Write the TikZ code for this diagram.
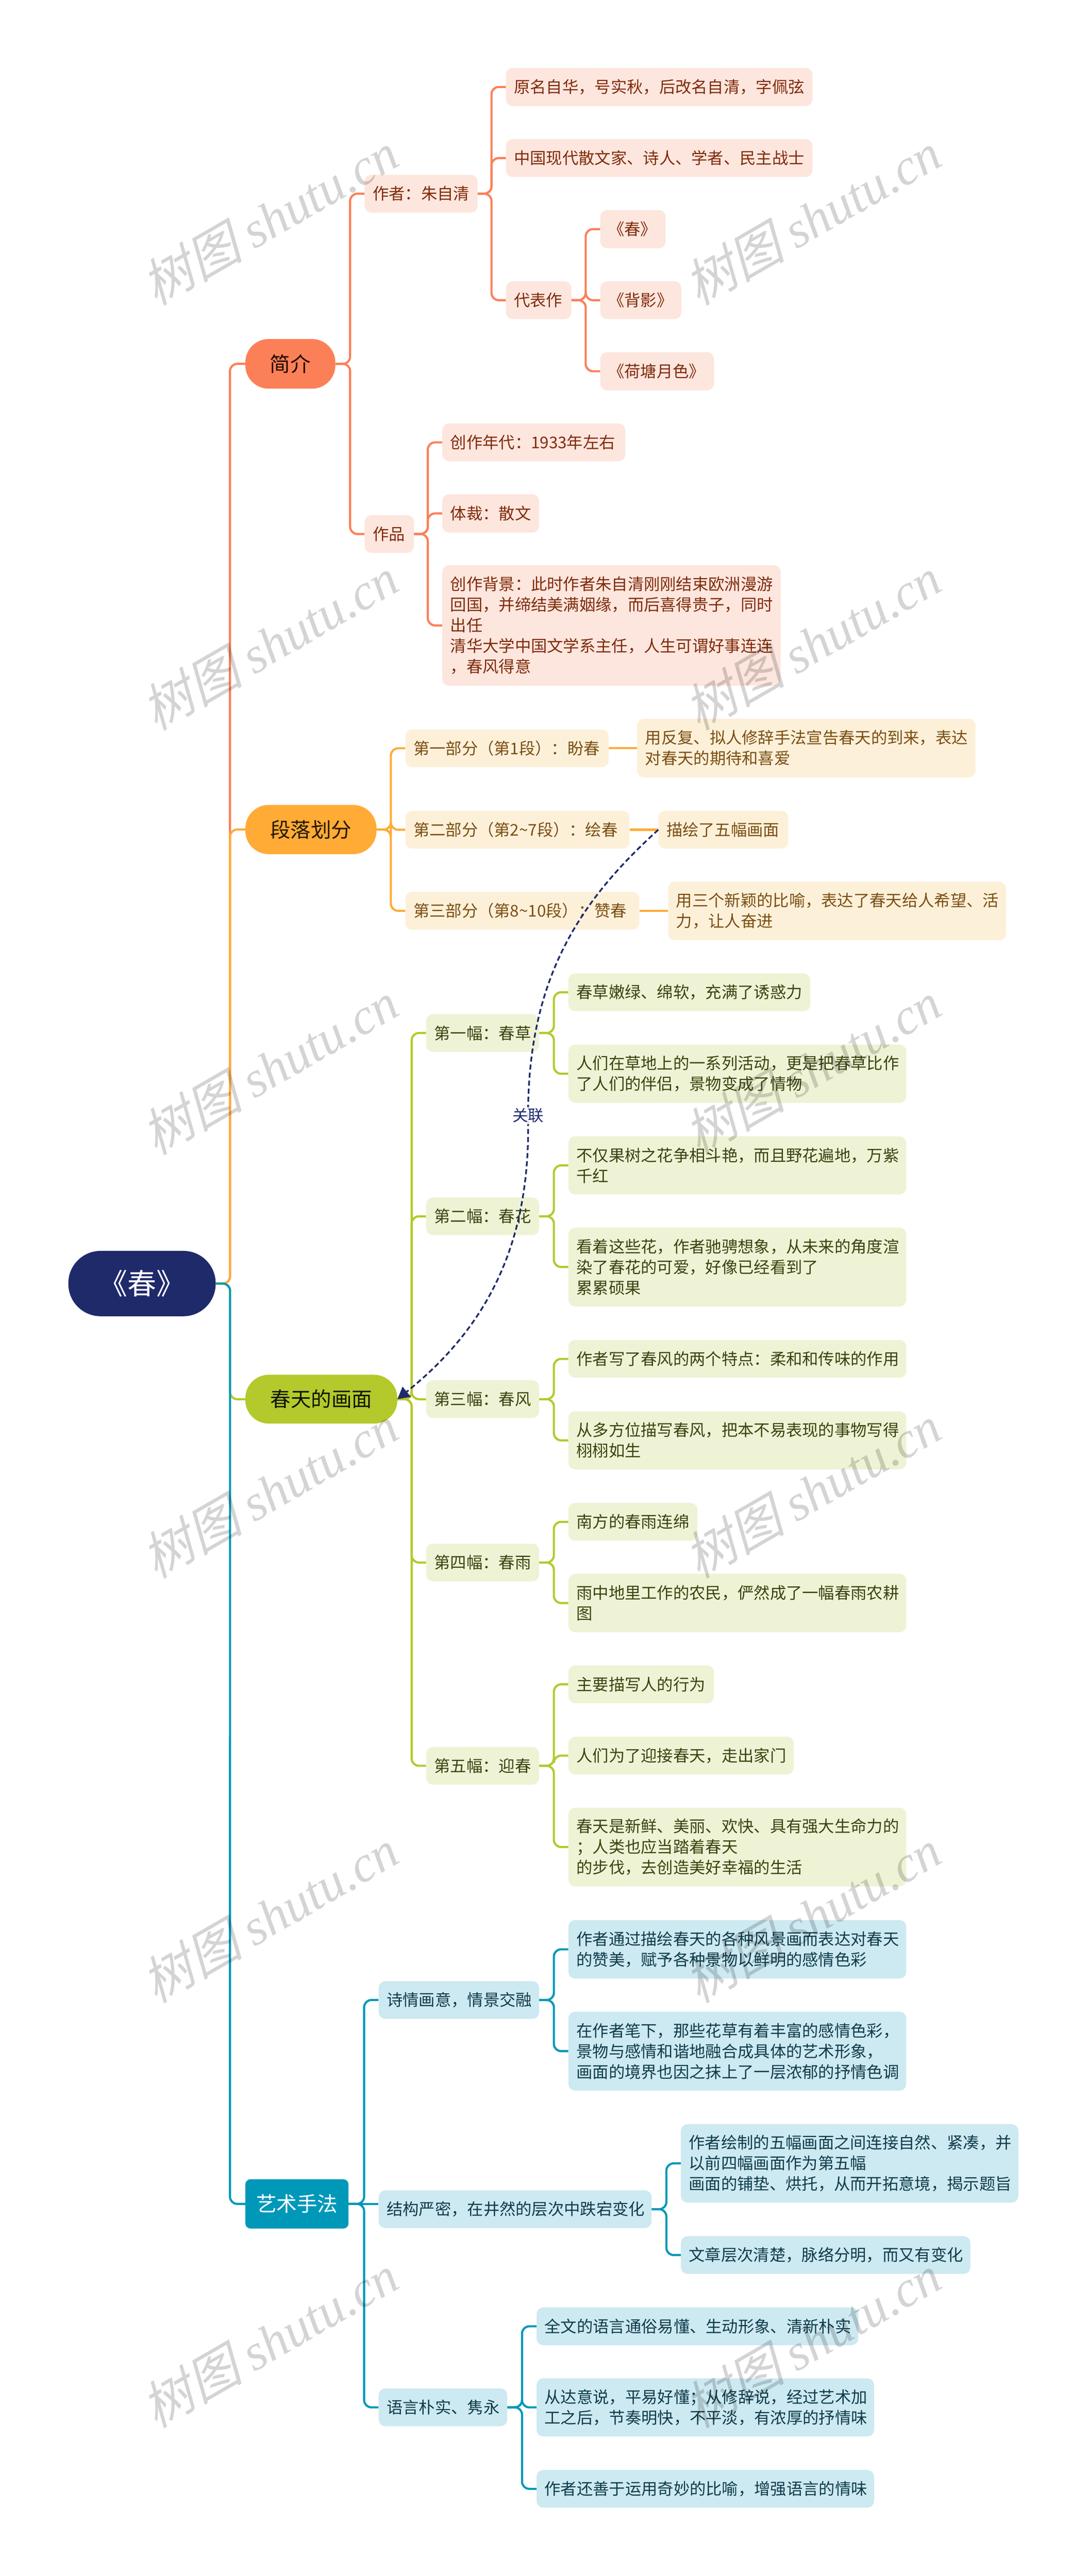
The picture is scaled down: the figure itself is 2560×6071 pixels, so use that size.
\documentclass[tikz,border=0pt]{standalone}
\usepackage{fontspec}
\usetikzlibrary{arrows.meta}
\setmainfont{Noto Sans CJK SC}
\newfontfamily\wmcjk[FakeSlant=0.25]{Noto Sans CJK SC}
\newfontfamily\wmlat{Liberation Serif Italic}
\definecolor{coralB}{HTML}{FB8058}
\definecolor{coralL}{HTML}{FDE6DD}
\definecolor{coralT}{HTML}{7F2A0A}
\definecolor{amberB}{HTML}{FFAB36}
\definecolor{amberL}{HTML}{FDF0D9}
\definecolor{amberT}{HTML}{7A4E12}
\definecolor{greenB}{HTML}{B4C92B}
\definecolor{greenL}{HTML}{EFF3D5}
\definecolor{greenT}{HTML}{3A4210}
\definecolor{tealB}{HTML}{0098B9}
\definecolor{tealL}{HTML}{CDE9F1}
\definecolor{tealT}{HTML}{0F3B4A}
\definecolor{navy}{HTML}{1F2A6B}
\pgfdeclarelayer{bg}
\pgfsetlayers{bg,main}
\tikzset{
  leaf/.style={rounded corners=16pt,inner ysep=0pt,inner xsep=19pt,align=left,font=\fontsize{38}{48.5}\selectfont},
  cL/.style={leaf,fill=coralL,text=coralT},
  aL/.style={leaf,fill=amberL,text=amberT},
  gL/.style={leaf,fill=greenL,text=greenT},
  tL/.style={leaf,fill=tealL,text=tealT},
  topnode/.style={rounded corners=55pt,inner sep=0pt,align=center,font=\fontsize{48}{58}\selectfont},
  link/.style={line width=5pt,rounded corners=17pt},
  wm/.style={rotate=30,text=black,text opacity=.17,inner sep=0pt}
}
\newcommand{\nd}[7]{%
  \pgfmathsetmacro\ndW{#4-#3}\pgfmathsetmacro\ndH{#6-#5}\pgfmathsetmacro\ndT{#4-#3-38}%
  \pgfmathsetmacro\ndX{(#3+#4)/2}\pgfmathsetmacro\ndY{(#5+#6)/2}%
  \node[#1,minimum width=\ndW pt,minimum height=\ndH pt,text width=\ndT pt] (#2) at (\ndX,\ndY) {#7};}
\newcommand{\tp}[7]{%
  \pgfmathsetmacro\ndW{#4-#3}\pgfmathsetmacro\ndH{#6-#5}%
  \pgfmathsetmacro\ndX{(#3+#4)/2}\pgfmathsetmacro\ndY{(#5+#6)/2}%
  \node[topnode,#1,minimum width=\ndW pt,minimum height=\ndH pt] (#2) at (\ndX,\ndY) {#7};}
% elbow connector: parent, child, colour
\newcommand{\conn}[3]{\draw[link,#3] (#1.east) -- ([xshift=-34pt]#2.west |- #1.east) -- ([xshift=-34pt]#2.west) -- (#2.west);}
\newcommand{\connS}[3]{\draw[link,#3] (#1.east) -- (#2.west |- #1.east);}
\begin{document}
\begin{tikzpicture}[x=1pt,y=-1pt]
\useasboundingbox (0,0) rectangle (2560,6071);
\begin{pgfonlayer}{bg}
\fill[white] (0,0) rectangle (2560,6071);
\end{pgfonlayer}
% root and main branches
\node[topnode,fill=navy,text=white,rounded corners=76pt,minimum width=347pt,minimum height=154pt,font=\fontsize{68}{78}\selectfont] (root) at (334.5,3025) {《春》};
\tp{fill=coralB,text=black!75!coralT}{jj}{578}{790}{799}{916}{简介}
\tp{fill=amberB,text=black!70!amberT}{dl}{578}{887}{1897}{2013}{段落划分}
\tp{fill=greenB,text=black!70!greenT}{hm}{578}{936}{3240}{3355}{春天的画面}
\tp{fill=tealB,text=white,rounded corners=12pt}{ys}{578}{821}{5136}{5252}{艺术手法}
% coral
\nd{cL}{zz}{859}{1125}{412}{501}{作者：朱自清}
\nd{cL}{ym}{1192}{1914}{160}{250}{原名自华，号实秋，后改名自清，字佩弦}
\nd{cL}{zg}{1192}{1914}{328}{417}{中国现代散文家、诗人、学者、民主战士}
\nd{cL}{db}{1192}{1346}{663}{752}{代表作}
\nd{cL}{wc}{1414}{1568}{495}{585}{《春》}
\nd{cL}{wb}{1414}{1605}{663}{752}{《背影》}
\nd{cL}{wh}{1414}{1682}{830}{920}{《荷塘月色》}
\nd{cL}{zp}{859}{975}{1214}{1303}{作品}
\nd{cL}{nd}{1042}{1473}{998}{1087}{创作年代：1933年左右}
\nd{cL}{tc}{1042}{1270}{1165}{1255}{体裁：散文}
\nd{cL}{bj}{1042}{1839}{1332}{1616}{创作背景：此时作者朱自清刚刚结束欧洲漫游\\回国，并缔结美满姻缘，而后喜得贵子，同时\\出任\\清华大学中国文学系主任，人生可谓好事连连\\，春风得意}
% amber
\nd{aL}{p1}{955}{1434}{1719}{1808}{第一部分（第1段）：盼春}
\nd{aL}{p1a}{1501}{2298}{1694}{1832}{用反复、拟人修辞手法宣告春天的到来，表达\\对春天的期待和喜爱}
\nd{aL}{p2}{955}{1483}{1911}{2000}{第二部分（第2\textasciitilde 7段）：绘春}
\nd{aL}{miao}{1551}{1857}{1911}{2000}{描绘了五幅画面}
\nd{aL}{p3}{955}{1506}{2102}{2191}{第三部分（第8\textasciitilde 10段）：赞春}
\nd{aL}{p3a}{1574}{2370}{2078}{2216}{用三个新颖的比喻，表达了春天给人希望、活\\力，让人奋进}
% green
\nd{gL}{f1}{1004}{1270}{2390}{2479}{第一幅：春草}
\nd{gL}{f1a}{1339}{1909}{2294}{2383}{春草嫩绿、绵软，充满了诱惑力}
\nd{gL}{f1b}{1339}{2135}{2462}{2599}{人们在草地上的一系列活动，更是把春草比作\\了人们的伴侣，景物变成了情物}
\nd{gL}{f2}{1004}{1270}{2822}{2911}{第二幅：春花}
\nd{gL}{f2a}{1339}{2135}{2678}{2815}{不仅果树之花争相斗艳，而且野花遍地，万紫\\千红}
\nd{gL}{f2b}{1339}{2135}{2893}{3079}{看着这些花，作者驰骋想象，从未来的角度渲\\染了春花的可爱，好像已经看到了\\累累硕果}
\nd{gL}{f3}{1004}{1270}{3253}{3342}{第三幅：春风}
\nd{gL}{f3a}{1339}{2135}{3158}{3247}{作者写了春风的两个特点：柔和和传味的作用}
\nd{gL}{f3b}{1339}{2135}{3326}{3463}{从多方位描写春风，把本不易表现的事物写得\\栩栩如生}
\nd{gL}{f4}{1004}{1270}{3638}{3727}{第四幅：春雨}
\nd{gL}{f4a}{1339}{1643}{3542}{3631}{南方的春雨连绵}
\nd{gL}{f4b}{1339}{2135}{3709}{3847}{雨中地里工作的农民，俨然成了一幅春雨农耕\\图}
\nd{gL}{f5}{1004}{1270}{4117}{4206}{第五幅：迎春}
\nd{gL}{f5a}{1339}{1682}{3925}{4014}{主要描写人的行为}
\nd{gL}{f5b}{1339}{1870}{4093}{4182}{人们为了迎接春天，走出家门}
\nd{gL}{f5c}{1339}{2135}{4260}{4446}{春天是新鲜、美丽、欢快、具有强大生命力的\\；人类也应当踏着春天\\的步伐，去创造美好幸福的生活}
% teal
\nd{tL}{s1}{892}{1270}{4669}{4758}{诗情画意，情景交融}
\nd{tL}{s1a}{1339}{2135}{4525}{4663}{作者通过描绘春天的各种风景画而表达对春天\\的赞美，赋予各种景物以鲜明的感情色彩}
\nd{tL}{s1b}{1339}{2135}{4741}{4927}{在作者笔下，那些花草有着丰富的感情色彩，\\景物与感情和谐地融合成具体的艺术形象，\\画面的境界也因之抹上了一层浓郁的抒情色调}
\nd{tL}{s2}{892}{1535}{5162}{5251}{结构严密，在井然的层次中跌宕变化}
\nd{tL}{s2a}{1604}{2399}{5006}{5191}{作者绘制的五幅画面之间连接自然、紧凑，并\\以前四幅画面作为第五幅\\画面的铺垫、烘托，从而开拓意境，揭示题旨}
\nd{tL}{s2b}{1604}{2286}{5270}{5359}{文章层次清楚，脉络分明，而又有变化}
\nd{tL}{s3}{892}{1195}{5629}{5718}{语言朴实、隽永}
\nd{tL}{s3a}{1264}{2022}{5438}{5527}{全文的语言通俗易懂、生动形象、清新朴实}
\nd{tL}{s3b}{1264}{2059}{5605}{5742}{从达意说，平易好懂；从修辞说，经过艺术加\\工之后，节奏明快，不平淡，有浓厚的抒情味}
\nd{tL}{s3c}{1264}{2059}{5821}{5910}{作者还善于运用奇妙的比喻，增强语言的情味}
\begin{pgfonlayer}{bg}
\draw[link,coralB] (root.east) -- (542,3025) -- ([xshift=-36pt]jj.west) -- (jj.west);
\draw[link,amberB] (root.east) -- (542,3025) -- ([xshift=-36pt]dl.west) -- (dl.west);
\draw[link,greenB] (root.east) -- (542,3025) -- ([xshift=-36pt]hm.west) -- (hm.west);
\draw[link,tealB] (root.east) -- (542,3025) -- ([xshift=-36pt]ys.west) -- (ys.west);
\foreach \a/\b in {jj/zz,jj/zp,zz/ym,zz/zg,zz/db,db/wc,db/wb,db/wh,zp/nd,zp/tc,zp/bj}{\conn{\a}{\b}{coralB}}
\foreach \a/\b in {dl/p1,dl/p2,dl/p3}{\conn{\a}{\b}{amberB}}
\foreach \a/\b in {p1/p1a,p2/miao,p3/p3a}{\connS{\a}{\b}{amberB}}
\foreach \a/\b in {hm/f1,hm/f2,hm/f3,hm/f4,hm/f5,f1/f1a,f1/f1b,f2/f2a,f2/f2b,f3/f3a,f3/f3b,f4/f4a,f4/f4b,f5/f5a,f5/f5b,f5/f5c}{\conn{\a}{\b}{greenB}}
\foreach \a/\b in {ys/s1,ys/s3,s1/s1a,s1/s1b,s2/s2a,s2/s2b,s3/s3a,s3/s3b,s3/s3c}{\conn{\a}{\b}{tealB}}
\connS{ys}{s2}{tealB}
\end{pgfonlayer}
% relation curve with its label on top
\coordinate (relmid) at (1244,2629);
\draw[navy,line width=4pt,dash pattern=on 12pt off 7pt,-{Triangle[length=28pt,width=30pt]}]
  (miao.west) .. controls (1370,2120) and (1244,2300) .. (relmid)
  .. controls (1250,2900) and (1170,3110) .. (hm.east);
\node[fill=white,fill opacity=.85,text opacity=1,inner sep=3pt,text=navy,font=\fontsize{37}{44}\selectfont] (rel) at (relmid) {关联};
% watermarks
\foreach \i/\px/\py in {1/635/515,2/1913/515,3/635/1517,4/1913/1517,5/635/2517,6/1913/2517,7/635/3515,8/1913/3515,9/635/4515,10/1913/4515,11/635/5517,12/1913/5517}{
  \node[wm] (wm\i) at (\px,\py) {\fontsize{120}{128}\selectfont\wmcjk 树图 \wmlat shutu.cn};
}
\end{tikzpicture}
\end{document}
